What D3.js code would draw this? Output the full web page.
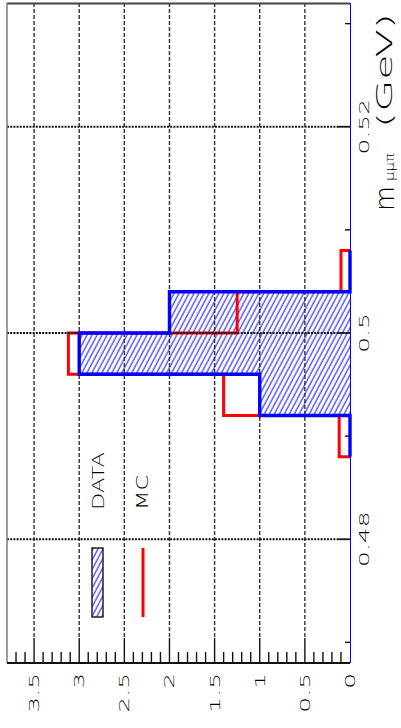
<!DOCTYPE html>
<html>
<head>
<meta charset="utf-8">
<script src="https://cdn.jsdelivr.net/npm/d3@7"></script>
<style>
  html, body { margin: 0; padding: 0; background: #fff; }
  svg { display: block; }
  text { font-family: "DejaVu Sans", sans-serif; font-weight: 200; fill: #000; }
</style>
</head>
<body>
<svg id="plot" width="401" height="728"></svg>
<script>
var binEdges = [0.488, 0.492, 0.496, 0.500, 0.504, 0.508]
  , dataCounts = [0, 1, 3, 2, 0]
  , mcCounts = [0.12, 1.4, 3.12, 1.25, 0.1]
  , countTicks = [0, 0.5, 1, 1.5, 2, 2.5, 3, 3.5]
  , countMinor = d3.range(1, 38).map(function(i) { return i / 10 })
  , massTicks = [0.48, 0.50, 0.52]
  , massMinor = [0.47, 0.49, 0.51, 0.53]
  , legendLabels = ['DATA', 'MC']

var svg = d3.select('svg#plot')
  , plotL = 7, plotR = 350, plotT = 3, plotB = 663

var cnt = d3.scaleLinear().domain([0, 3.8]).range([plotR, plotL])
  , mass = d3.scaleLinear().domain([0.468, 0.532]).range([plotB, plotT])

var defs = svg.append('defs')
defs.append('pattern')
  .attr('id', 'hatch')
  .attr('patternUnits', 'userSpaceOnUse')
  .attr('width', 4.4).attr('height', 10)
  .attr('patternTransform', 'rotate(28)')
  .append('line')
  .attr('x1', 1).attr('y1', 0).attr('x2', 1).attr('y2', 10)
  .attr('stroke', '#2222ff').attr('stroke-width', 1.1)

var stepPoints = function(counts) {
  var pts = [[0, binEdges[0]]]
  counts.forEach(function(c, i) {
    pts.push([c, binEdges[i]])
    pts.push([c, binEdges[i + 1]])
  })
  pts.push([0, binEdges[binEdges.length - 1]])
  return pts
}

var step = d3.line()
  .x(function(d) { return cnt(d[0]) })
  .y(function(d) { return mass(d[1]) })

// hatched data fill
svg.append('path')
  .attr('d', step(stepPoints(dataCounts)) + 'Z')
  .attr('fill', 'url(#hatch)')

// mc outline
svg.append('path')
  .attr('d', step(stepPoints(mcCounts)))
  .attr('fill', 'none')
  .attr('stroke', '#ff0000')
  .attr('stroke-width', 3)

// grid
svg.selectAll('line.vgrid').data(countTicks.slice(1))
  .enter().append('line').classed('vgrid', true)
  .attr('x1', cnt).attr('x2', cnt)
  .attr('y1', plotT).attr('y2', plotB - 25)
  .attr('stroke', '#333').attr('stroke-width', 1.4)
  .attr('stroke-dasharray', '4,2')

svg.selectAll('line.hgrid').data(massTicks)
  .enter().append('line').classed('hgrid', true)
  .attr('x1', plotL).attr('x2', plotR - 12)
  .attr('y1', mass).attr('y2', mass)
  .attr('stroke', '#111').attr('stroke-width', 1.8)
  .attr('stroke-dasharray', '2,1.2')

// data outline
svg.append('path')
  .attr('d', step(stepPoints(dataCounts)))
  .attr('fill', 'none')
  .attr('stroke', '#0000ff')
  .attr('stroke-width', 3.4)

// frame
svg.append('line')
  .attr('x1', plotL).attr('x2', plotR).attr('y1', plotT + 0.5).attr('y2', plotT + 0.5)
  .attr('stroke', '#444').attr('stroke-width', 2)
svg.append('line')
  .attr('x1', plotL).attr('x2', plotL).attr('y1', plotT).attr('y2', plotB)
  .attr('stroke', '#777').attr('stroke-width', 1.5)
svg.append('line')
  .attr('x1', plotL).attr('x2', plotR).attr('y1', plotB).attr('y2', plotB)
  .attr('stroke', '#111').attr('stroke-width', 2)
svg.append('line')
  .attr('x1', plotR + 0.5).attr('x2', plotR + 0.5).attr('y1', plotT).attr('y2', plotB)
  .attr('stroke', '#0000ff').attr('stroke-width', 1)

// count axis ticks
svg.selectAll('line.cmin').data(countMinor)
  .enter().append('line').classed('cmin', true)
  .attr('x1', cnt).attr('x2', cnt)
  .attr('y1', plotB).attr('y2', function(d) { return (Math.round(d * 10) % 5 === 0) ? plotB - 25 : plotB - 11 })
  .attr('stroke', '#111').attr('stroke-width', 1.4)

svg.selectAll('text.clab').data(countTicks)
  .enter().append('text').classed('clab', true)
  .attr('transform', function(d) { return 'translate(' + (cnt(d) + 5) + ',673) rotate(-90) scale(1.78,1)' })
  .attr('text-anchor', 'end')
  .attr('font-size', 14)
  .text(function(d) { return String(d) })

// mass axis ticks
svg.selectAll('line.mmaj').data(massTicks)
  .enter().append('line').classed('mmaj', true)
  .attr('x1', plotR - 12).attr('x2', plotR)
  .attr('y1', mass).attr('y2', mass)
  .attr('stroke', '#111').attr('stroke-width', 1.8)

svg.selectAll('line.mmin').data(massMinor)
  .enter().append('line').classed('mmin', true)
  .attr('x1', plotR - 5).attr('x2', plotR)
  .attr('y1', mass).attr('y2', mass)
  .attr('stroke', '#111').attr('stroke-width', 1.4)

svg.selectAll('text.mlab').data(massTicks)
  .enter().append('text').classed('mlab', true)
  .attr('transform', function(d) { return 'translate(369,' + mass(d) + ') rotate(-90) scale(1.78,1)' })
  .attr('text-anchor', 'middle')
  .attr('font-size', 14)
  .text(function(d) { return String(d) })

// axis title
svg.append('text')
  .attr('transform', 'translate(394,211) rotate(-90) scale(0.95,1)')
  .attr('font-size', 27)
  .text('m')
svg.append('text')
  .attr('transform', 'translate(394,181) rotate(-90) scale(1.25,1)')
  .attr('font-size', 12)
  .text('\u03bc\u03bc\u03c0')
svg.append('text')
  .attr('transform', 'translate(392,128) rotate(-90) scale(1.88,1)')
  .attr('font-size', 22)
  .text('(GeV)')

// legend
svg.append('rect')
  .attr('x', 92).attr('y', 548).attr('width', 11).attr('height', 69)
  .attr('fill', 'url(#hatch)')
  .attr('stroke', '#222').attr('stroke-width', 1.5)
svg.append('line')
  .attr('x1', 143).attr('x2', 143).attr('y1', 548).attr('y2', 617)
  .attr('stroke', '#ff0000').attr('stroke-width', 3)

svg.selectAll('text.leg').data(legendLabels)
  .enter().append('text').classed('leg', true)
  .attr('transform', function(d, i) { return 'translate(' + (104 + i * 44) + ',510) rotate(-90) scale(1.5,1)' })
  .attr('font-size', 15)
  .text(function(d) { return d })
</script>
</body>
</html>
